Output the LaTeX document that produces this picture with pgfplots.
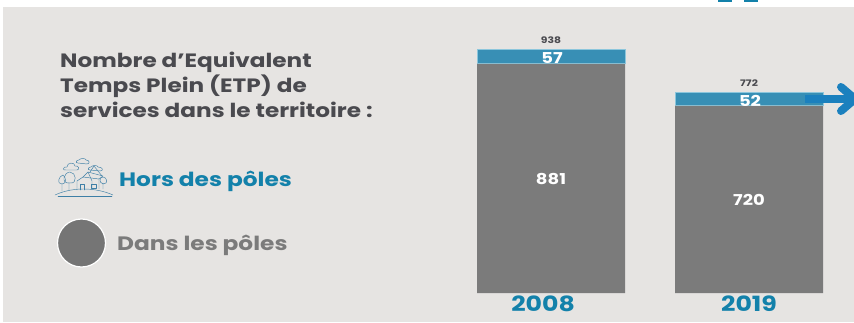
\documentclass[border=0pt]{standalone}
\usepackage{fontspec}
\setmainfont{Poppins}[FakeStretch=1.2]
\usepackage{pgfplots}
\pgfplotsset{compat=1.18}
\definecolor{panel}{HTML}{E6E4E2}
\definecolor{barblue}{HTML}{388FB5}
\definecolor{edgeblue}{HTML}{8CC6DC}
\definecolor{bargray}{HTML}{7B7B7B}
\definecolor{titleblue}{HTML}{1381AA}
\definecolor{arrowblue}{HTML}{1B80BE}
\definecolor{dark}{HTML}{4A4A4F}
\definecolor{lineblue}{HTML}{3E7FA6}
\begin{document}
\begin{tikzpicture}[x=1pt,y=1pt]
\clip (0,0) rectangle (854,322);
\fill[white] (0,0) rectangle (854,322);
\fill[panel] (3,0) rectangle (854,315);
\fill[titleblue] (718,320) rectangle (732,322);
\fill[titleblue] (744,320) rectangle (758,322);
\begin{axis}[
  at={(0pt,0pt)}, anchor=south west,
  width=854pt, height=322pt, scale only axis,
  xmin=-2.783, xmax=1.530, ymin=-111.5, ymax=1126.9,
  ybar stacked, bar width=148pt,
  axis line style={draw=none}, major tick length=0pt,
  xtick={0,1}, xticklabels={\hspace*{-16pt}\raisebox{-3pt}{2008},2019},
  ytick=\empty,
  xticklabel style={font=\fontsize{21}{21}\selectfont\bfseries, text=titleblue, yshift=30pt},
  clip=false,
]
\addplot[fill=bargray, draw=none] coordinates {(0,881) (1,720)};
\addplot[fill=barblue, draw=edgeblue, line width=0.9pt] coordinates {(0,57) (1,52)};
\node[font=\fontsize{9}{9}\selectfont\bfseries, text=dark] at (axis cs:0,973) {938};
\node[font=\fontsize{9}{9}\selectfont\bfseries, text=dark] at (axis cs:1,808) {772};
\end{axis}
% overlay in pixel coordinates (y from top)
\begin{scope}[shift={(0,322)},y=-1pt]
\node[font=\fontsize{15}{15}\selectfont\bfseries, text=white] at (551,179) {881};
\node[font=\fontsize{15}{15}\selectfont\bfseries, text=white] at (749,200) {720};
\node[font=\fontsize{15}{15}\selectfont\bfseries, text=white] at (552,58) {57};
\node[font=\fontsize{15}{15}\selectfont\bfseries, text=white] at (750,101) {52};
\draw[arrowblue, line width=8pt] (805,99) -- (850,99);
\draw[arrowblue, line width=8pt, line cap=round, line join=round] (841,87) -- (855,99) -- (841,111);
\node[anchor=west, text=dark, font=\fontsize{19.3}{19.3}\selectfont\bfseries, inner sep=0pt] at (60,62.5) {Nombre d’Equivalent};
\node[anchor=west, text=dark, font=\fontsize{19.3}{19.3}\selectfont\bfseries, inner sep=0pt] at (60,86) {Temps Plein (ETP) de};
\node[anchor=west, text=dark, font=\fontsize{19.3}{19.3}\selectfont\bfseries, inner sep=0pt] at (60,109.5) {services dans le territoire :};
\node[anchor=west, text=titleblue, font=\fontsize{19.4}{19.4}\selectfont\bfseries, inner sep=0pt] at (119,181) {Hors des pôles};
\node[anchor=west, text=bargray, font=\fontsize{19.4}{19.4}\selectfont\bfseries, inner sep=0pt] at (117,245) {Dans les pôles};
\draw[white, fill=bargray!95!black, line width=1.2pt] (81.5,243) circle (24);
% village icon
\begin{scope}[lineblue, line width=0.45pt, line join=round, line cap=round]
\draw (55,195) .. controls (72,187) and (95,187) .. (113,195);
\draw (58,196) -- (112,196);
\draw (77,190) -- (77,181) -- (83,177) -- (88,172) -- (92,181) -- (92,190);
\draw (83,177) -- (99,179) -- (99,189);
\draw (88,172) -- (103,176) -- (99,179);
\draw (80,190) -- (80,184) -- (84,184) -- (84,190);
\draw (91,184) rectangle (96,188);
\draw (69,190) -- (69,183) (70,183) .. controls (60,184) and (64,172) .. (70,172) .. controls (76,172) and (78,184) .. (70,183);
\draw (62,191) -- (62,184) (62,184) .. controls (56,184) and (59,176) .. (63,175) .. controls (66,177) and (67,184) .. (62,184);
\draw (103,189) -- (103,183) (103,184) .. controls (98,182) and (100,177) .. (103,177) .. controls (107,177) and (109,184) .. (103,184);
\draw (90,172) -- (94,166) -- (102,176);
\draw (66,170) .. controls (62,171) and (63,166) .. (67,167) .. controls (67,162) and (75,162) .. (75,166) .. controls (79,165) and (80,170) .. (77,170) -- cycle;
\draw (78,163) .. controls (75,163) and (76,160) .. (79,160) .. controls (80,158) and (86,158) .. (86,160) .. controls (90,160) and (90,164) .. (87,164) -- cycle;
\draw (90,170) .. controls (87,170) and (88,167) .. (91,167) .. controls (92,165) and (98,165) .. (98,167) .. controls (103,167) and (104,171) .. (100,171) -- cycle;
\end{scope}
\end{scope}
\end{tikzpicture}
\end{document}
